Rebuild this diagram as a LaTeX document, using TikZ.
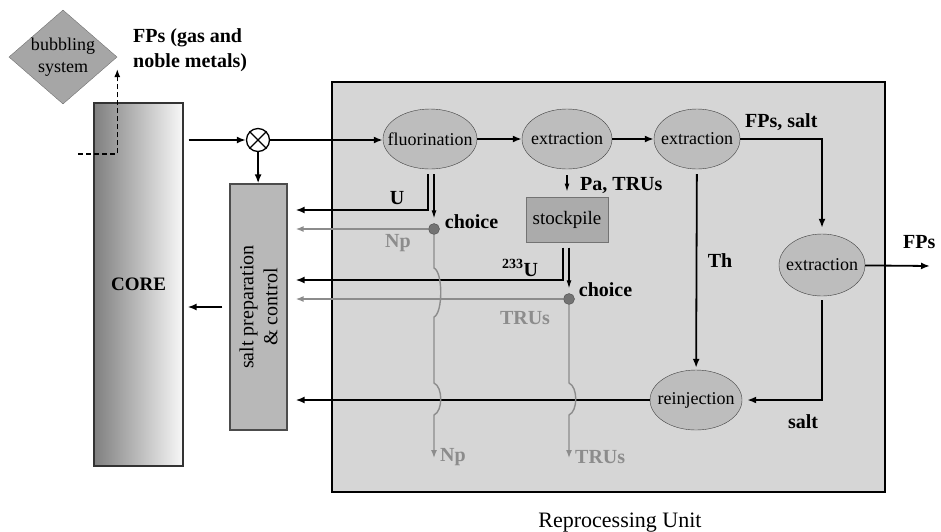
\documentclass[tikz,border=0pt]{standalone}
\usepackage{fontspec}
\setmainfont{Liberation Serif}
\usepackage{xcolor}
\usepackage{tikz}
\usetikzlibrary{shapes.geometric,arrows.meta,positioning}

\definecolor{unitgray}{gray}{0.84}
\definecolor{procgray}{gray}{0.74}
\definecolor{flowgray}{gray}{0.55}
\definecolor{boxgray}{gray}{0.72}

\begin{document}
\begin{tikzpicture}[x=1pt,y=-1pt,
			every node/.style={font=\fontsize{18}{22}\selectfont},
			proc/.style={ellipse,draw=black!75,fill=procgray,inner sep=0pt,minimum width=90pt,minimum height=60pt},
			lbl/.style={font=\bfseries\fontsize{20}{25}\selectfont,inner sep=0pt},
			glbl/.style={lbl,text=flowgray},
			blk/.style={line width=1.8pt,line join=miter,-{Latex[length=9pt,width=7pt]}},
			thn/.style={line width=1.1pt,-{Latex[length=8pt,width=5pt]}},
			gry/.style={line width=1.4pt,draw=flowgray,-{Latex[length=8pt,width=6pt,fill=flowgray]}},
			dsh/.style={line width=1.5pt,dash pattern=on 5pt off 3pt,-{Latex[length=8pt,width=6pt]}},
			choicedot/.style={circle,draw=black!70,fill=black!55,minimum size=11pt,inner sep=0pt}]
			\useasboundingbox (0,0) rectangle (941,531);
			% reactor side
			\node[diamond,aspect=1.15,inner sep=0pt,draw=black!55,fill=black!35,align=center,
			      minimum width=108pt,minimum height=94pt] (bubble) at (63,57) {bubbling\\system};
			\node[lbl,anchor=west,align=left] (fpsgas) at (133,50) {FPs (gas and\\noble metals)};
			\node[draw=black!80,line width=1.2pt,left color=black!50,right color=black!3,
			      minimum width=89pt,minimum height=363pt,font=\bfseries\fontsize{19}{22}\selectfont] (core) at (138.5,284.5) {CORE};
			\node[circle,draw,line width=1.3pt,minimum size=23pt,inner sep=0pt] (mix) at (258,140) {};
			\draw[line width=1.3pt] (mix.north west) -- (mix.south east) (mix.north east) -- (mix.south west);
			\node[draw=black!70,line width=1.2pt,fill=boxgray,minimum width=57pt,minimum height=246pt] (salt) at (258.5,307) {};
			\node[rotate=90,align=center,font=\fontsize{20}{24}\selectfont] at (salt) {salt preparation\\\& control};
			% reprocessing unit
			\node[draw,line width=2.2pt,fill=unitgray,minimum width=553pt,minimum height=410pt] (unit) at (608.5,287) {};
			\node[anchor=base,font=\fontsize{22}{26}\selectfont] (cap) at (620,527) {Reprocessing Unit};
			\node[proc,minimum width=94pt,label=center:fluorination] (fluor) at (430,139) {};
			\node[proc,label=center:extraction] (ext1) at (567,139) {};
			\node[proc,minimum width=86pt,label=center:extraction] (ext2) at (697,139) {};
			\node[proc,minimum width=86pt,minimum height=62pt,label=center:extraction] (ext3) at (822,265) {};
			\node[proc,minimum width=92pt,label=center:reinjection] (reinj) at (696,400) {};
			\node[draw=black!55,line width=1pt,fill=black!33,minimum width=82pt,minimum height=45pt,
			      font=\fontsize{19}{22}\selectfont] (stock) at (567,219.5) {stockpile};
			\node[choicedot] (ch1) at (434,229) {};
			\node[choicedot] (ch2) at (569,299) {};
			\coordinate (dashStart) at (78,154);
			\coordinate (fpsOut) at (930,266);
			\coordinate (uCorner) at (428,210);
			\coordinate (uBisCorner) at (563,280);
			\coordinate (npOut) at (434,458);
			\coordinate (truOut) at (569,458);
			% black flows
			\draw[dsh] (dashStart) -| ([yshift=-12pt]bubble.east);
			\draw[blk] ([xshift=5pt]core.east |- mix) -- (mix);
			\draw[blk] (mix) -- (mix -| fluor.west);
			\draw[blk] (mix) -- (salt);
			\draw[blk] ([xshift=-7pt]salt.west) -- ([xshift=4pt]core.east |- salt.west);
			\draw[blk] (fluor) -- (ext1);
			\draw[blk] (ext1) -- (ext2);
			\draw[blk,shorten >=6pt] (ext2) -| (ext3);
			\draw[blk] (ext3) -- (fpsOut);
			\draw[blk,shorten <=4pt,shorten >=5pt] (ext3) |- (reinj);
			\draw[blk,shorten <=5pt,shorten >=2pt] (ext2) -- (reinj);
			\draw[blk] (reinj) -- ([xshift=8pt]salt.east |- reinj);
			\draw[blk] ([xshift=-2pt,yshift=-5pt]fluor.south) -- (uCorner) -- ([xshift=8pt]salt.east |- uCorner);
			\draw[thn,shorten >=5pt] ([yshift=-5pt]ch1 |- fluor.south) -- (ch1.north);
			\draw[thn,shorten <=6pt,shorten >=5pt] (ext1) -- (stock);
			\draw[blk] ([xshift=-4pt,yshift=-5pt]stock.south) -- (uBisCorner) -- ([xshift=8pt]salt.east |- uBisCorner);
			\draw[thn,shorten >=5pt] ([yshift=-5pt]ch2 |- stock.south) -- (ch2.north);
			% gray flows
			\draw[gry] (ch1) -- ([xshift=8pt]salt.east |- ch1);
			\draw[gry] (ch2) -- ([xshift=8pt]salt.east |- ch2);
			\draw[gry] (ch1.south) -- (ch1 |- 0,268) .. controls +(9,4) and +(9,-4) .. (ch1 |- 0,317)
			    -- (ch1 |- 0,383) .. controls +(9,4) and +(9,-4) .. (ch1 |- 0,415) -- (npOut);
			\draw[gry] (ch2.south) -- (ch2 |- 0,383) .. controls +(9,4) and +(9,-4) .. (ch2 |- 0,415) -- (truOut);
			% labels
			\node[lbl,anchor=west] at (745,122) {FPs, salt};
			\node[lbl,anchor=west] at (903,242) {FPs};
			\node[lbl] at (720,261) {Th};
			\node[lbl] at (803,422) {salt};
			\node[lbl] at (397,198) {U};
			\node[glbl] at (398,243) {Np};
			\node[lbl] at (520,268) {\textsuperscript{233}U};
			\node[glbl] at (525,318) {TRUs};
			\node[lbl,anchor=west] at (580,185) {Pa, TRUs};
			\node[lbl,right=5pt of ch1,yshift=7pt] {choice};
			\node[lbl,right=4pt of ch2,yshift=9pt] {choice};
			\node[glbl,right=6pt of npOut,yshift=1pt] {Np};
			\node[glbl,right=6pt of truOut,yshift=1pt] {TRUs};
		\end{tikzpicture}
\end{document}
